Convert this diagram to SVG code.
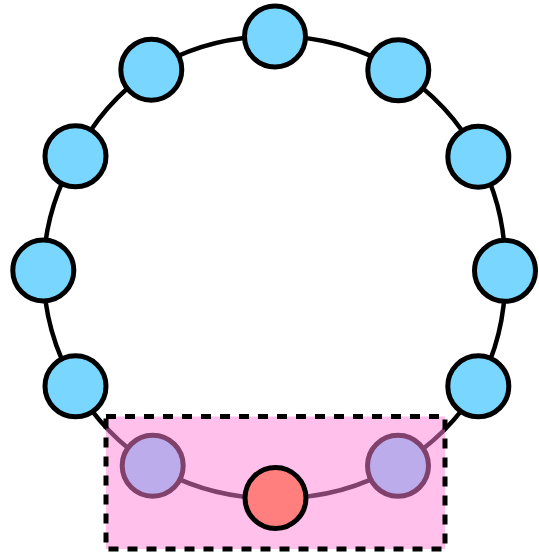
<svg xmlns="http://www.w3.org/2000/svg" width="539" height="558" viewBox="0 0 539 558">
<style>
.edge{fill:none;stroke:#000;stroke-width:4.5}
.node{fill:#78D6FF;stroke:#000;stroke-width:5}
.hl{fill:#FF7F7F;stroke:#000;stroke-width:5}
.ov{fill:#FF82D7;fill-opacity:0.5;stroke:none}
.box{fill:none;stroke:#000;stroke-width:5;stroke-dasharray:10 9}
</style>
<rect width="539" height="558" fill="#fff"/>
<g id="connectors">
<path class="edge" d="M275,36.5 A232,232 0 0 1 398.3,70.3 A232,232 0 0 1 478.3,156.7 A232,232 0 0 1 505,270.8 A232,232 0 0 1 478.3,386.3 A232,232 0 0 1 398,465.8 A232,232 0 0 1 275.5,498 A232,232 0 0 1 152.7,465.7 A232,232 0 0 1 75.5,386.3 A232,232 0 0 1 43.3,270.5 A232,232 0 0 1 75.5,156.3 A232,232 0 0 1 151.3,69.7 A232,232 0 0 1 275,36.5 Z"/>
</g>
<g id="n0"><circle class="node" cx="275" cy="36.5" r="30.5"/></g>
<g id="n1"><circle class="node" cx="398.3" cy="70.3" r="30.5"/></g>
<g id="n2"><circle class="node" cx="478.3" cy="156.7" r="30.5"/></g>
<g id="n3"><circle class="node" cx="505" cy="270.8" r="30.5"/></g>
<g id="n4"><circle class="node" cx="478.3" cy="386.3" r="30.5"/></g>
<g id="n5"><circle class="node" cx="398" cy="465.8" r="30.5"/></g>
<g id="n7"><circle class="node" cx="152.7" cy="465.7" r="30.5"/></g>
<g id="n8"><circle class="node" cx="75.5" cy="386.3" r="30.5"/></g>
<g id="n9"><circle class="node" cx="43.3" cy="270.5" r="30.5"/></g>
<g id="n10"><circle class="node" cx="75.5" cy="156.3" r="30.5"/></g>
<g id="n11"><circle class="node" cx="151.3" cy="69.7" r="30.5"/></g>
<g id="highlight">
<rect class="ov" x="106" y="416.5" width="339" height="132.5"/>
<rect class="box" x="106" y="416.5" width="339" height="132.5"/>
</g>
<g id="n6"><circle class="hl" cx="275.5" cy="498" r="30.5"/></g>
</svg>
